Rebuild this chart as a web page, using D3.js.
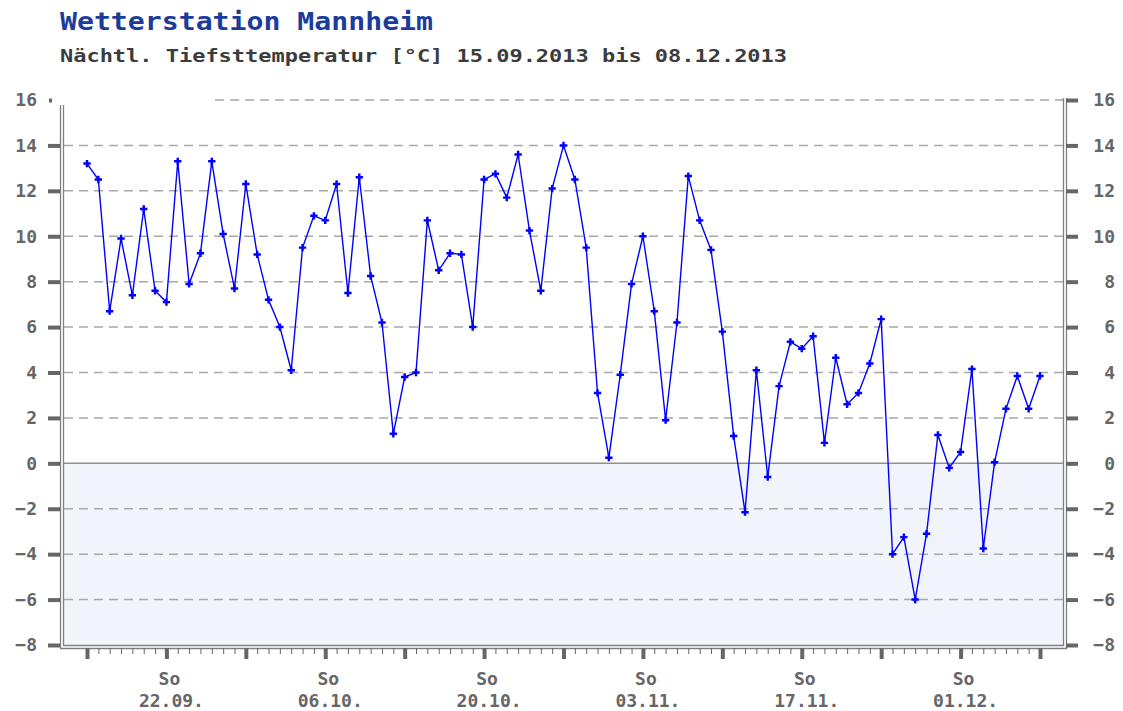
<!DOCTYPE html>
<html>
<head>
<meta charset="utf-8">
<script src="https://cdn.jsdelivr.net/npm/d3@7"></script>
<style>
  body { margin: 0; background: #fff; }
  svg { display: block; font-family: "DejaVu Sans Mono", monospace; }
</style>
</head>
<body>
<div id="main"><svg width="1123" height="711"></svg></div>
<script>
// Data: nightly minimum temperature, one value per day from 15.09.2013
var startDate = "2013-09-15";
var endDate = "2013-12-08";
var tmin = [
  13.2, 12.5, 6.7, 9.9, 7.4, 11.2, 7.6, 7.1, 13.3, 7.9,
  9.25, 13.3, 10.1, 7.7, 12.3, 9.2, 7.2, 6.0, 4.1, 9.5,
  10.9, 10.7, 12.3, 7.5, 12.6, 8.25, 6.2, 1.3, 3.8, 4.0,
  10.7, 8.5, 9.25, 9.2, 6.0, 12.5, 12.75, 11.7, 13.6, 10.25,
  7.6, 12.1, 14.0, 12.5, 9.5, 3.1, 0.25, 3.9, 7.9, 10.0,
  6.7, 1.9, 6.2, 12.65, 10.7, 9.4, 5.8, 1.2, -2.15, 4.1,
  -0.6, 3.4, 5.35, 5.05, 5.6, 0.9, 4.65, 2.6, 3.1, 4.4,
  6.35, -4.0, -3.25, -6.0, -3.1, 1.25, -0.2, 0.5, 4.15, -3.75,
  0.05, 2.4, 3.85, 2.4, 3.85
];
var yTicks = [-8, -6, -4, -2, 0, 2, 4, 6, 8, 10, 12, 14, 16];
var xLabelDates = ["2013-09-22", "2013-10-06", "2013-10-20", "2013-11-03", "2013-11-17", "2013-12-01"];
var xLabelDay = "So";
var title = "Wetterstation Mannheim";
var subtitle = "Nächtl. Tiefsttemperatur [°C] 15.09.2013 bis 08.12.2013";

var svg = d3.select("#main").select("svg");
var parseDate = d3.timeParse("%Y-%m-%d");
var fmtLabel = d3.timeFormat("%d.%m.");

var start = parseDate(startDate);
var data = tmin.map(function(v, i) {
    return { date: d3.timeDay.offset(start, i), value: v };
});

// Plot box
var box = { left: 60, right: 1066, top: 100, bottom: 648 };

var xScale = d3.scaleTime()
    .domain([start, parseDate(endDate)])
    .range([87, 1040]);

var yScale = d3.scaleLinear()
    .domain([-8, 16])
    .range([645, 100]);

// Titles
svg.append("text")
    .attr("x", 60).attr("y", 30)
    .attr("font-size", 24)
    .attr("font-weight", "bold")
    .attr("fill", "#1c3c9c")
    .attr("textLength", 373).attr("lengthAdjust", "spacingAndGlyphs")
    .text(title);

svg.append("text")
    .attr("x", 60).attr("y", 62)
    .attr("font-size", 18)
    .attr("font-weight", "bold")
    .attr("fill", "#3c3c3c")
    .attr("textLength", 727).attr("lengthAdjust", "spacingAndGlyphs")
    .text(subtitle);

// Negative area background
svg.append("rect")
    .attr("x", 64).attr("y", yScale(0))
    .attr("width", 1063 - 64).attr("height", 645 - yScale(0))
    .attr("fill", "#f1f4fa");

// Grid lines
svg.append("g").selectAll("line")
    .data(yTicks.filter(function(d) { return d !== 0 && d !== -8; }))
    .enter().append("line")
    .attr("x1", function(d) { return d === 16 ? 215 : 64; })
    .attr("x2", 1063)
    .attr("y1", function(d) { return yScale(d); })
    .attr("y2", function(d) { return yScale(d); })
    .attr("stroke", "#a8a8a8")
    .attr("stroke-width", 1.5)
    .attr("stroke-dasharray", "9,6");

svg.append("line")
    .attr("x1", 64).attr("x2", 1063)
    .attr("y1", yScale(0)).attr("y2", yScale(0))
    .attr("stroke", "#909090").attr("stroke-width", 1.5);

// Frame (double lines)
var frame = svg.append("g").attr("stroke", "#808080").attr("fill", "none").attr("stroke-width", 1.3);
frame.append("path").attr("d", "M60.5,105 V648.5 H1066.5 V98");
frame.append("path").attr("d", "M63.5,105 V645.5 H1063.5 V98");

// Left axis
var yAxisL = d3.axisLeft(yScale).tickValues(yTicks).tickSize(12).tickPadding(11);
var gL = svg.append("g")
    .attr("transform", "translate(" + box.left + ",0)")
    .call(yAxisL);
gL.select(".domain").remove();
gL.selectAll(".tick line")
    .attr("stroke", "#666").attr("stroke-width", 4)
    .attr("x2", function(d) { return d === 16 ? -8 : -12; })
    .attr("x1", function(d) { return d === 16 ? -11 : 0; });
gL.selectAll(".tick text")
    .attr("font-size", 18).attr("font-weight", "bold").attr("fill", "#666")
    .attr("font-family", "DejaVu Sans Mono");

// Right axis
var yAxisR = d3.axisRight(yScale).tickValues(yTicks).tickSize(12).tickPadding(12);
var gR = svg.append("g")
    .attr("transform", "translate(" + box.right + ",0)")
    .call(yAxisR);
gR.select(".domain").remove();
gR.selectAll(".tick line").attr("stroke", "#666").attr("stroke-width", 4);
gR.selectAll(".tick text")
    .attr("font-size", 18).attr("font-weight", "bold").attr("fill", "#666")
    .attr("font-family", "DejaVu Sans Mono")
    .attr("text-anchor", "end").attr("x", 49);

// Bottom axis: daily minor ticks, weekly major ticks
var dayAxis = d3.axisBottom(xScale).ticks(d3.timeDay.every(1)).tickSize(6).tickFormat("");
var gDay = svg.append("g")
    .attr("transform", "translate(0," + box.bottom + ")")
    .call(dayAxis);
gDay.select(".domain").remove();
gDay.selectAll(".tick line").attr("stroke", "#666").attr("stroke-width", 1);

var weekAxis = d3.axisBottom(xScale).ticks(d3.timeSunday.every(1)).tickSize(11).tickFormat("");
var gWeek = svg.append("g")
    .attr("transform", "translate(0," + box.bottom + ")")
    .call(weekAxis);
gWeek.select(".domain").remove();
gWeek.selectAll(".tick line").attr("stroke", "#666").attr("stroke-width", 4);

// Bottom labels
var labels = svg.append("g").selectAll("g")
    .data(xLabelDates.map(parseDate))
    .enter().append("g")
    .attr("transform", function(d) { return "translate(" + xScale(d) + ",0)"; })
    .attr("font-size", 18).attr("font-weight", "bold").attr("fill", "#666")
    .attr("text-anchor", "middle");
labels.append("text").attr("x", 3).attr("y", 685).text(xLabelDay);
labels.append("text").attr("x", 5).attr("y", 707).text(function(d) { return fmtLabel(d); });

// Line
var line = d3.line()
    .x(function(d) { return xScale(d.date); })
    .y(function(d) { return yScale(d.value); });

svg.append("path")
    .datum(data)
    .attr("d", line)
    .attr("fill", "none")
    .attr("stroke", "#0000ff")
    .attr("stroke-width", 1.4);

// Markers
svg.append("g").selectAll("path")
    .data(data)
    .enter().append("path")
    .attr("d", d3.symbol().type(d3.symbolCross).size(30))
    .attr("transform", function(d) { return "translate(" + xScale(d.date) + "," + yScale(d.value) + ")"; })
    .attr("fill", "#0000ff");
</script>
</body>
</html>
